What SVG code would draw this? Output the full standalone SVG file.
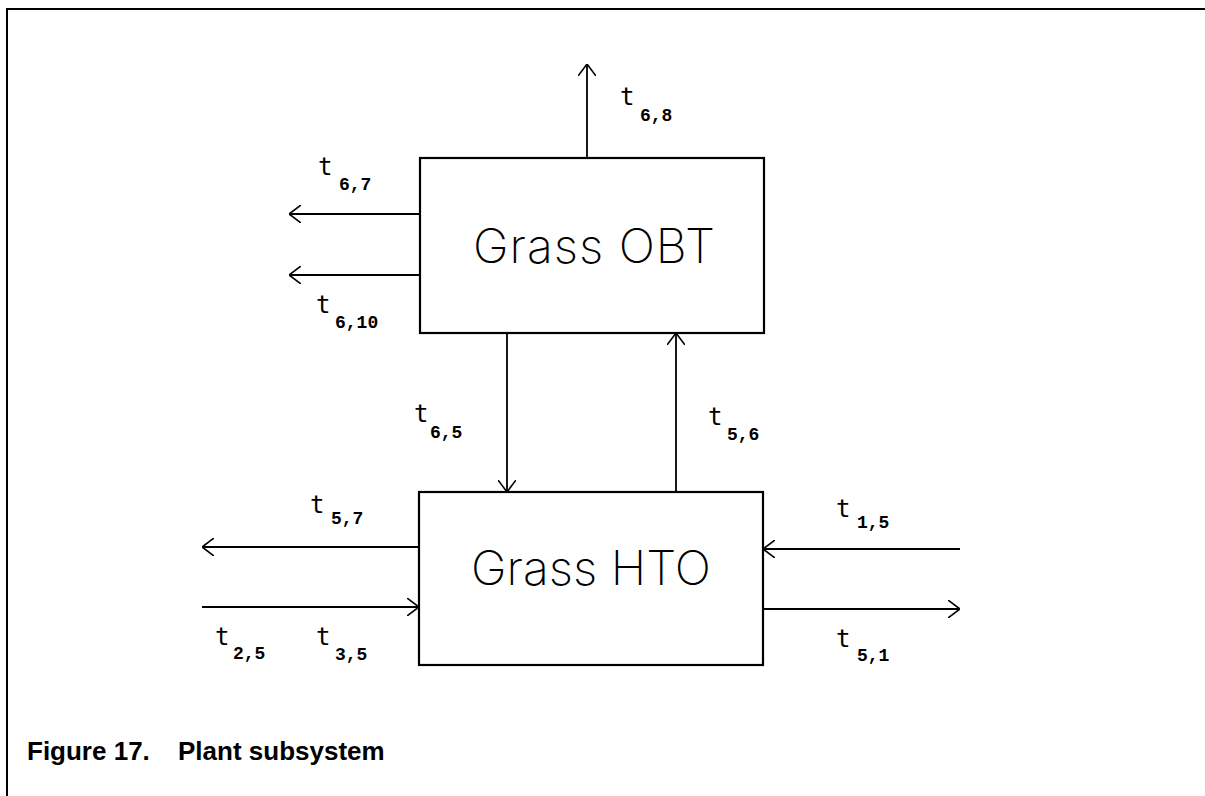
<svg xmlns="http://www.w3.org/2000/svg" width="1205" height="796" viewBox="0 0 1205 796">
<style>
.box{fill:#fff;stroke:#000;stroke-width:2.2}
.ln{fill:none;stroke:#000;stroke-width:1.8}
.frame{fill:none;stroke:#000;stroke-width:2}
.big{font-family:Inter,"Liberation Sans",sans-serif;font-size:48px;font-weight:200;fill:#000}
.t{font-family:"DejaVu Sans Mono","Liberation Mono",monospace;font-size:24px;fill:#000}
.s{font-family:"Liberation Mono",monospace;font-size:18px;font-weight:bold;fill:#000}
.cap{font-family:"Liberation Sans",Arial,sans-serif;font-size:26px;font-weight:bold;fill:#000}
</style>
<defs>
<marker id="ah" viewBox="0 0 12 18" refX="12" refY="9" markerWidth="12" markerHeight="18" markerUnits="userSpaceOnUse" orient="auto">
<path d="M0,0 L12,9 L0,18" fill="none" stroke="#000" stroke-width="1.6"/>
</marker>
</defs>
<rect width="1205" height="796" fill="#fff"/>
<path class="frame" d="M7,796 L7,9 L1205,9"/>
<g id="connectors">
<line class="ln" x1="587" y1="158" x2="587" y2="64" marker-end="url(#ah)"/>
<line class="ln" x1="420" y1="214" x2="289" y2="214" marker-end="url(#ah)"/>
<line class="ln" x1="420" y1="275" x2="289" y2="275" marker-end="url(#ah)"/>
<line class="ln" x1="507" y1="333" x2="507" y2="492" marker-end="url(#ah)"/>
<line class="ln" x1="676" y1="492" x2="676" y2="333" marker-end="url(#ah)"/>
<line class="ln" x1="419" y1="547" x2="202" y2="547" marker-end="url(#ah)"/>
<line class="ln" x1="202" y1="607" x2="419" y2="607" marker-end="url(#ah)"/>
<line class="ln" x1="960" y1="549" x2="763" y2="549" marker-end="url(#ah)"/>
<line class="ln" x1="763" y1="609" x2="960" y2="609" marker-end="url(#ah)"/>
</g>
<g id="grass-obt">
<rect class="box" x="420" y="158" width="344" height="175"/>
<text class="big" x="473" y="263" textLength="242" lengthAdjust="spacing">Grass OBT</text>
</g>
<g id="grass-hto">
<rect class="box" x="419" y="492" width="344" height="173"/>
<text class="big" x="471" y="585" textLength="240" lengthAdjust="spacing">Grass HTO</text>
</g>
<g id="labels">
<text class="t" x="620" y="105">t</text><text class="s" x="640" y="121">6,8</text>
<text class="t" x="318" y="175">t</text><text class="s" x="339" y="190">6,7</text>
<text class="t" x="316" y="313">t</text><text class="s" x="335" y="328">6,10</text>
<text class="t" x="414" y="422">t</text><text class="s" x="430" y="438">6,5</text>
<text class="t" x="708" y="425">t</text><text class="s" x="727" y="440">5,6</text>
<text class="t" x="310" y="513">t</text><text class="s" x="331" y="524">5,7</text>
<text class="t" x="215" y="645">t</text><text class="s" x="233" y="659">2,5</text>
<text class="t" x="316" y="645">t</text><text class="s" x="335" y="660">3,5</text>
<text class="t" x="836" y="517">t</text><text class="s" x="857" y="528">1,5</text>
<text class="t" x="836" y="647">t</text><text class="s" x="857" y="661">5,1</text>
</g>
<g id="caption">
<text class="cap" x="27" y="760">Figure 17.</text>
<text class="cap" x="178" y="760">Plant subsystem</text>
</g>
</svg>
